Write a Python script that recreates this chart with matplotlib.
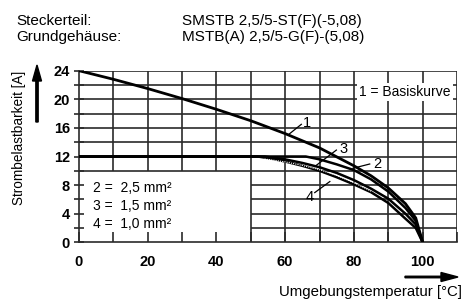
import matplotlib
matplotlib.use("Agg")
import matplotlib.pyplot as plt

plt.rcParams['font.family'] = ['Liberation Sans', 'DejaVu Sans']

# ---- data ----
t1 = [0, 10, 20, 30, 40, 50, 60, 70, 80, 85, 90, 95, 98, 100]
i1 = [24, 22.8, 21.5, 20.1, 18.6, 17.0, 15.2, 13.2, 10.7, 9.3, 7.6, 5.4, 3.4, 0]

t2 = [0, 66, 70, 75, 80, 85, 90, 95, 98, 100]
i2 = [12, 12, 11.6, 10.9, 10.1, 8.8, 7.1, 4.8, 3.0, 0]

t3 = [0, 54, 60, 65, 70, 75, 80, 85, 90, 95, 98, 100]
i3 = [12, 12, 11.6, 11.1, 10.5, 9.7, 8.7, 7.5, 6.1, 4.0, 2.5, 0]

t4 = [0, 52, 56, 60, 65, 70, 75, 80, 85, 90, 95, 98, 100]
i4 = [12, 12, 11.7, 11.3, 10.7, 10.0, 9.1, 8.1, 7.0, 5.5, 3.3, 2.0, 0]

x_ticks = list(range(0, 111, 10))
x_labels = ['0', '', '20', '', '40', '', '60', '', '80', '', '100', '']
y_ticks = list(range(0, 25, 2))
y_labels = ['0', '', '4', '', '8', '', '12', '', '16', '', '20', '', '24']

legend_lines = ['2 =  2,5 mm²', '3 =  1,5 mm²', '4 =  1,0 mm²']

# ---- figure ----
fig = plt.figure(figsize=(4.64, 3.01), dpi=100)
ax = fig.add_axes([79/464, 1-242.3/301, 378/464, 171.6/301])
ax.set_xlim(0, 110)
ax.set_ylim(0, 24)

gc = '#2a2a2a'
glw = 1.2
for y in y_ticks[1:]:
    if y >= 10:
        ax.hlines(y, 0, 110, color=gc, lw=glw, zorder=1)
    else:
        ax.hlines(y, 50, 110, color=gc, lw=glw, zorder=1)
for x in x_ticks[1:]:
    if x >= 50:
        ax.vlines(x, 0, 24, color=gc, lw=glw, zorder=1)
    else:
        ax.vlines(x, 10, 24, color=gc, lw=glw, zorder=1)

for s in ['top', 'right']:
    ax.spines[s].set_visible(False)
for s in ['left', 'bottom']:
    ax.spines[s].set_linewidth(1.2)
    ax.spines[s].set_color(gc)

ax.set_xticks(x_ticks)
ax.set_xticklabels(x_labels, fontsize=10.5, fontweight='bold')
ax.set_yticks(y_ticks)
ax.set_yticklabels(y_labels, fontsize=10.5, fontweight='bold')
ax.tick_params(axis='x', direction='in', length=7, width=1.2, color=gc, pad=9)
ax.tick_params(axis='y', direction='inout', length=7, width=1.2, color=gc, pad=3)

# curves
ax.plot(t1, i1, color='black', lw=2.0, zorder=3)
ax.plot(t2, i2, color='black', lw=1.8, zorder=3)
ax.plot(t3, i3, color='black', lw=1.8, zorder=3)
ax.plot(t4, i4, color='black', lw=1.8, zorder=3)
ax.plot(t3[1:8], [v - 0.35 for v in i3[1:8]], color='white', lw=0.8, ls=(0, (1, 1)), zorder=4)

def lab(txt, tx, ty, x0, y0, x1, y1):
    ax.plot([x0, x1], [y0, y1], color='black', lw=0.9, zorder=5)
    ax.text(tx, ty, txt, fontsize=10.5, ha='center', va='center', zorder=5)

lab('1', 66.3, 16.7, 64.7, 16.5, 60.8, 15.0)
lab('3', 76.9, 13.0, 74.9, 12.9, 68.6, 10.6)
lab('2', 86.7, 11.0, 84.6, 10.95, 79.7, 10.35)
lab('4', 67.0, 6.4, 68.6, 6.95, 73.0, 8.5)

for k, s in enumerate(legend_lines):
    ax.text(4, 7.6 - 2.5 * k, s, fontsize=10, ha='left', va='center', zorder=5)

ax.text(94.9, 21.0, '1 = Basiskurve', fontsize=10, ha='center', va='center', zorder=6,
        bbox=dict(facecolor='white', edgecolor='none', pad=1.5))

fig.text(19/464, 1-138/301, 'Strombelastbarkeit [A]', rotation=90, fontsize=9.8,
         ha='center', va='center')
fig.text(462/464, 1-291.7/301, 'Umgebungstemperatur [°C]', fontsize=10.8,
         ha='right', va='center')

fig.patches.append(matplotlib.patches.FancyArrow(
    37/464, 1-122/301, 0, (122-65)/301, width=1.5/301, head_width=9/464,
    head_length=16/301, length_includes_head=True, color='black',
    transform=fig.transFigure, figure=fig))
fig.patches.append(matplotlib.patches.FancyArrow(
    405/464, 1-277/301, (458-405)/464, 0, width=1.5/301, head_width=9/301,
    head_length=17/464, length_includes_head=True, color='black',
    transform=fig.transFigure, figure=fig))

fig.text(16/464, 1-21/301, 'Steckerteil:', fontsize=11, ha='left', va='center')
fig.text(16/464, 1-37/301, 'Grundgehäuse:', fontsize=11, ha='left', va='center')
fig.text(182/464, 1-21/301, 'SMSTB 2,5/5-ST(F)(-5,08)', fontsize=11, ha='left', va='center')
fig.text(182/464, 1-37/301, 'MSTB(A) 2,5/5-G(F)-(5,08)', fontsize=11, ha='left', va='center')

fig.savefig('out.png', dpi=100)
